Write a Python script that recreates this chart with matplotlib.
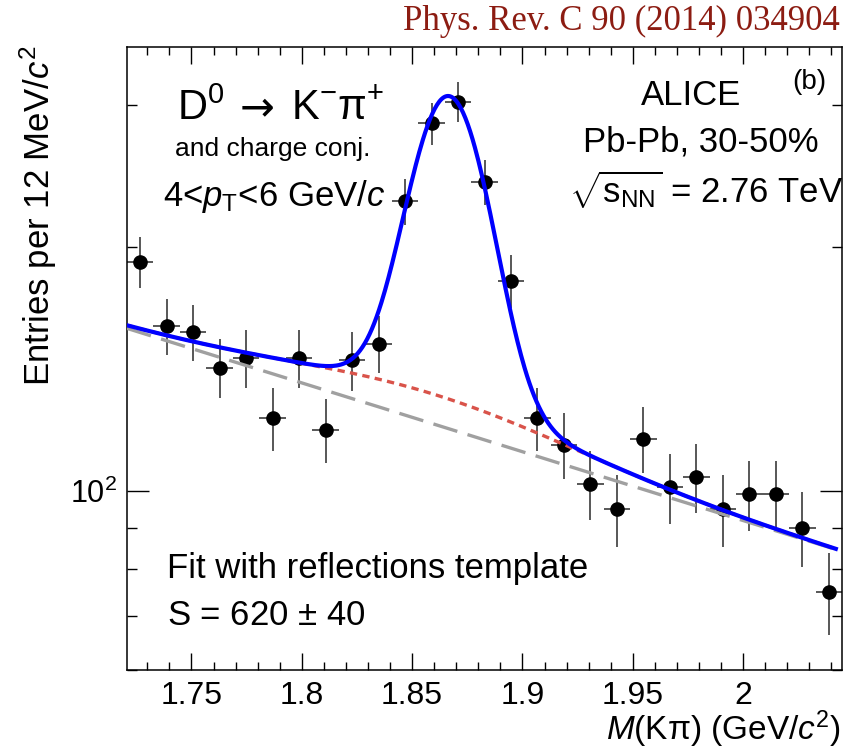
import matplotlib
matplotlib.use('Agg')

import numpy as np
import matplotlib.pyplot as plt
from matplotlib.ticker import FixedLocator, FixedFormatter, NullFormatter

plt.rcParams['font.family'] = ['Liberation Sans', 'DejaVu Sans']
plt.rcParams['mathtext.fontset'] = 'custom'
plt.rcParams['mathtext.rm'] = 'Liberation Sans'
plt.rcParams['mathtext.it'] = 'Liberation Sans:italic'
plt.rcParams['mathtext.bf'] = 'Liberation Sans:bold'

# invariant mass bins (GeV/c^2), 12 MeV wide
mass = [1.7268, 1.7388, 1.7508, 1.7628, 1.7748, 1.7868, 1.7988, 1.8108, 1.8228,
        1.8348, 1.8468, 1.8588, 1.8708, 1.8828, 1.8948, 1.9068, 1.9188, 1.9308,
        1.9428, 1.9548, 1.9668, 1.9788, 1.9908, 2.0028, 2.0148, 2.0268, 2.0388]
entries = [192, 160, 157, 142, 146, 123, 146, 119, 145,
           152, 228, 285, 303, 241, 182, 123, 114, 102,
           95, 116, 101, 104, 95, 99, 99, 90, 75]
errors = [13.9, 12.6, 12.5, 11.9, 12.1, 11.1, 12.1, 10.9, 12.0,
          12.3, 15.1, 16.9, 17.4, 15.5, 13.5, 11.1, 10.7, 10.1,
          9.7, 10.8, 10.0, 10.2, 9.7, 9.9, 9.9, 9.5, 8.7]
half_bin = 0.006

# fit parameters
bkg_norm = 158.8      # background at fit_low
bkg_slope = -1.961    # exponential slope (1/GeV)
sig_amp = 178.0
sig_mean = 1.8667
sig_sigma = 0.0168
refl_amp = 10.8
refl_mean = 1.852
refl_sigma = 0.065
fit_low = 1.7208
fit_high = 2.042

x_ticks = [1.75, 1.8, 1.85, 1.9, 1.95, 2.0]
x_tick_labels = ['1.75', '1.8', '1.85', '1.9', '1.95', '2']
y_major = [100]
y_major_labels = [r'$10^{2}$']
y_minor = [60, 70, 80, 90, 200, 300]


def bkg(x):
    return bkg_norm * np.exp(bkg_slope * (x - fit_low))


def refl(x):
    return refl_amp * np.exp(-0.5 * ((x - refl_mean) / refl_sigma) ** 2)


def signal(x):
    return sig_amp * np.exp(-0.5 * ((x - sig_mean) / sig_sigma) ** 2)


fig = plt.figure(figsize=(8.48, 7.51), dpi=100)
ax = fig.add_axes([127 / 848, 1 - 670 / 751, 715 / 848, 623 / 751])

ax.errorbar(mass, entries, yerr=errors, xerr=half_bin, fmt='o', color='black',
            ecolor='#4a4a4a', elinewidth=1.3, capsize=0, markersize=9.5, zorder=2)

xf = np.linspace(fit_low, fit_high, 600)
ax.plot(xf, bkg(xf), color='#a0a0a0', lw=2.4, dashes=(7.5, 3.2), zorder=3)
ax.plot(xf, bkg(xf) + refl(xf), color='#d9534a', lw=2.4, dashes=(2.2, 1.6), zorder=4)
ax.plot(xf, bkg(xf) + refl(xf) + signal(xf), color='#0000ff', lw=3.0, zorder=5)

ax.set_yscale('log')
ax.set_xlim(1.7208, 2.0448)
ax.set_ylim(60, 354)

ax.xaxis.set_major_locator(FixedLocator(x_ticks))
ax.xaxis.set_major_formatter(FixedFormatter(x_tick_labels))
ax.xaxis.set_minor_locator(FixedLocator(np.arange(1.73, 2.045, 0.01)))
ax.yaxis.set_major_locator(FixedLocator(y_major))
ax.yaxis.set_major_formatter(FixedFormatter(y_major_labels))
ax.yaxis.set_minor_locator(FixedLocator(y_minor))
ax.yaxis.set_minor_formatter(NullFormatter())

ax.tick_params(which='both', direction='in', top=True, right=True, width=1.0,
               labelsize=23)
ax.xaxis.set_tick_params(which='major', length=12, pad=8)
ax.xaxis.set_tick_params(which='minor', length=6)
ax.yaxis.set_tick_params(which='major', length=16, pad=7, labelsize=22)
ax.yaxis.set_tick_params(which='minor', length=7.5)
for s in ax.spines.values():
    s.set_linewidth(1.1)

fig.text(840 / 848, 1 - 30 / 751, 'Phys. Rev. C 90 (2014) 034904', ha='right',
         va='baseline', fontsize=25, color='#8c1c12', family='Liberation Serif')

fig.text(38 / 848, 1 - 46 / 751, r'Entries per 12 MeV/$c^{2}$', rotation=90,
         ha='center', va='top', fontsize=25)
fig.text(841 / 848, 1 - 740 / 751, r'$M$(Kπ) (GeV/$c^{2}$)', ha='right',
         va='baseline', fontsize=24)

# decay channel, split so the arrow can come from DejaVu Sans
fig.text(177 / 848, 1 - 120 / 751, 'D$^{0}$', ha='left', va='baseline', fontsize=30)
fig.text(257 / 848, 1 - 120 / 751, '→', ha='center', va='baseline', fontsize=30,
         family='DejaVu Sans')
fig.text(291 / 848, 1 - 120 / 751, 'K$^{-}$π$^{+}$', ha='left', va='baseline',
         fontsize=30)
fig.text(273 / 848, 1 - 156 / 751, 'and charge conj.', ha='center',
         va='baseline', fontsize=19)
fig.text(274 / 848, 1 - 206 / 751, r'4<$p_{\mathrm{T}}$<6 GeV/$c$', ha='center',
         va='baseline', fontsize=25)

fig.text(691 / 848, 1 - 105 / 751, 'ALICE', ha='center', va='baseline', fontsize=25)
fig.text(701 / 848, 1 - 151 / 751, 'Pb-Pb, 30-50%', ha='center', va='baseline',
         fontsize=25)
fig.text(706 / 848, 1 - 203 / 751, r'$\sqrt{\mathrm{s}_{\mathrm{NN}}}$ = 2.76 TeV',
         ha='center', va='baseline', fontsize=25)
fig.text(809 / 848, 1 - 89 / 751, '(b)', ha='center', va='baseline', fontsize=20)

fig.text(167 / 848, 1 - 578 / 751, 'Fit with reflections template', ha='left',
         va='baseline', fontsize=25)
fig.text(167 / 848, 1 - 625 / 751, r'S = 620 $\pm$ 40', ha='left', va='baseline',
         fontsize=25)

plt.savefig('out.png', dpi=100)
